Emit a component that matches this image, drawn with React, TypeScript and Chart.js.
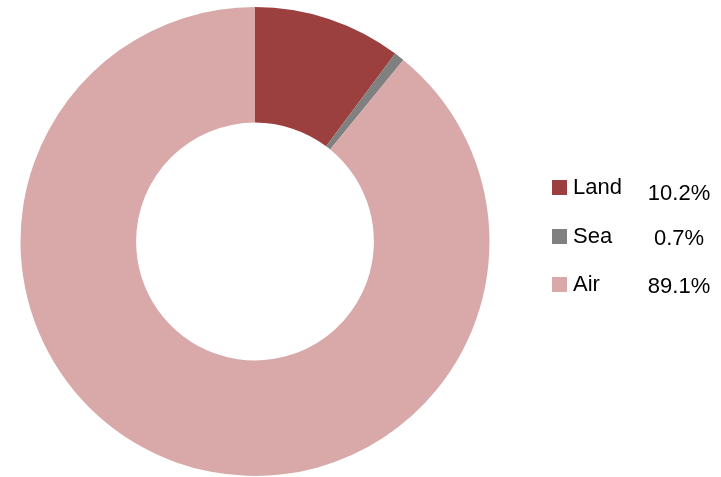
import React, { useEffect, useRef } from "react";
import { Chart, registerables } from "chart.js";

Chart.register(...registerables);

const categories = ["Land", "Sea", "Air"];
const shares = [10.2, 0.7, 89.1];
const colors = ["#9C403F", "#808080", "#D9A9A9"];

const FONT = "22px 'Liberation Sans', Arial, sans-serif";

export default function App() {
  const ref = useRef<HTMLCanvasElement | null>(null);

  useEffect(() => {
    const canvas = ref.current;
    if (!canvas) return;
    const legendPlugin = {
      id: "sideLegend",
      afterDraw(chart: any) {
        const ctx = chart.ctx as CanvasRenderingContext2D;
        ctx.save();
        ctx.font = FONT;
        ctx.textBaseline = "alphabetic";
        const labelBase = [194, 243, 291];
        const valueBase = [200, 245, 293];
        categories.forEach((cat, i) => {
          ctx.fillStyle = colors[i];
          ctx.fillRect(552, labelBase[i] - 14, 15, 15);
          ctx.fillStyle = "#000";
          ctx.textAlign = "left";
          ctx.fillText(cat, 573, labelBase[i]);
          ctx.textAlign = "center";
          ctx.fillText(shares[i].toFixed(1) + "%", 679, valueBase[i]);
        });
        ctx.restore();
      },
    };
    const chart = new Chart(canvas, {
      type: "doughnut",
      data: {
        labels: categories,
        datasets: [
          {
            data: shares,
            backgroundColor: colors,
            borderWidth: 0,
          },
        ],
      },
      options: {
        responsive: false,
        animation: false,
        cutout: "50.7%",
        layout: { padding: { left: 20, right: 231, top: 7, bottom: 1 } },
        plugins: {
          legend: { display: false },
          tooltip: { enabled: false },
        },
      },
      plugins: [legendPlugin],
    });
    return () => chart.destroy();
  }, []);

  return (
    <div style={{ position: "absolute", left: 0, top: 0, width: 721, height: 477, background: "#fff" }}>
      <canvas ref={ref} width={721} height={477} />
    </div>
  );
}
